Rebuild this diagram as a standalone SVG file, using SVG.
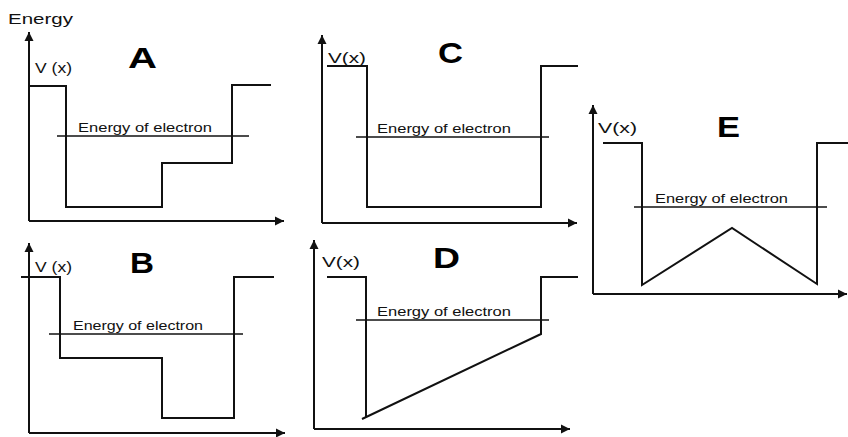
<svg xmlns="http://www.w3.org/2000/svg" width="848" height="437" viewBox="0 0 848 437">
<defs>
<marker id="arr" viewBox="0 0 10 10" refX="10" refY="5" markerWidth="9" markerHeight="10" markerUnits="userSpaceOnUse" orient="auto">
<path d="M0,0 L10,5 L0,10 z" fill="#111"/>
</marker>
<style>
.ax{stroke:#111;stroke-width:2;fill:none;marker-end:url(#arr)}
.pot{stroke:#111;stroke-width:2;fill:none}
.en{stroke:#111;stroke-width:1.6;fill:none}
.lbl{font-family:"Liberation Sans",Arial,sans-serif;font-size:13px;fill:#111}
.vx{font-family:"Liberation Sans",Arial,sans-serif;font-size:15px;fill:#111}
.big{font-family:"Liberation Sans",Arial,sans-serif;font-size:30px;font-weight:bold;fill:#000}
</style>
</defs>
<rect width="848" height="437" fill="#fff"/>
<g id="connectors">
<line class="ax" x1="29" y1="221" x2="29" y2="32"/>
<line class="ax" x1="29" y1="221" x2="284" y2="221"/>
<line class="ax" x1="29" y1="433" x2="29" y2="243"/>
<line class="ax" x1="29" y1="433" x2="285" y2="433"/>
<line class="ax" x1="322" y1="223" x2="322" y2="35"/>
<line class="ax" x1="322" y1="223" x2="577" y2="223"/>
<line class="ax" x1="314" y1="429" x2="314" y2="240"/>
<line class="ax" x1="314" y1="429" x2="570" y2="429"/>
<line class="ax" x1="593" y1="294" x2="593" y2="105"/>
<line class="ax" x1="593" y1="294" x2="847" y2="294"/>
</g>
<g id="panelA">
<text class="vx" x="8" y="24" textLength="65" lengthAdjust="spacingAndGlyphs">Energy</text>
<text class="vx" x="35" y="73" textLength="37" lengthAdjust="spacingAndGlyphs">V (x)</text>
<text class="big" x="128" y="68" textLength="29" lengthAdjust="spacingAndGlyphs">A</text>
<polyline class="pot" points="29,86 66,86 66,207 162,207 162,163 232,163 232,85 271,85"/>
<line class="en" x1="57" y1="136" x2="249" y2="136"/>
<text class="lbl" x="78" y="132" textLength="134" lengthAdjust="spacingAndGlyphs">Energy of electron</text>
</g>
<g id="panelB">
<text class="vx" x="35" y="272" textLength="37" lengthAdjust="spacingAndGlyphs">V (x)</text>
<text class="big" x="130" y="273" textLength="24" lengthAdjust="spacingAndGlyphs">B</text>
<polyline class="pot" points="21,277 60,277 60,358 162,358 162,418 234,418 234,277 274,277"/>
<line class="en" x1="49" y1="334" x2="243" y2="334"/>
<text class="lbl" x="73" y="330" textLength="130" lengthAdjust="spacingAndGlyphs">Energy of electron</text>
</g>
<g id="panelC">
<text class="vx" x="328" y="63" textLength="38" lengthAdjust="spacingAndGlyphs">V(x)</text>
<text class="big" x="438" y="63" textLength="25" lengthAdjust="spacingAndGlyphs">C</text>
<polyline class="pot" points="327,66 367,66 367,207 541,207 541,66 578,66"/>
<line class="en" x1="356" y1="137" x2="549" y2="137"/>
<text class="lbl" x="377" y="133" textLength="134" lengthAdjust="spacingAndGlyphs">Energy of electron</text>
</g>
<g id="panelD">
<text class="vx" x="322" y="267" textLength="38" lengthAdjust="spacingAndGlyphs">V(x)</text>
<text class="big" x="433" y="268" textLength="27" lengthAdjust="spacingAndGlyphs">D</text>
<polyline class="pot" points="327,277 366,277 366,417"/>
<polyline class="pot" points="362,419 541,334 541,277 578,277"/>
<line class="en" x1="356" y1="320" x2="549" y2="320"/>
<text class="lbl" x="377" y="316" textLength="134" lengthAdjust="spacingAndGlyphs">Energy of electron</text>
</g>
<g id="panelE">
<text class="vx" x="598" y="133" textLength="39" lengthAdjust="spacingAndGlyphs">V(x)</text>
<text class="big" x="717" y="137" textLength="23" lengthAdjust="spacingAndGlyphs">E</text>
<polyline class="pot" points="603,143 642,143 642,285 732,228 817,284 817,143 848,143"/>
<line class="en" x1="634" y1="207" x2="827" y2="207"/>
<text class="lbl" x="655" y="203" textLength="133" lengthAdjust="spacingAndGlyphs">Energy of electron</text>
</g>
</svg>
